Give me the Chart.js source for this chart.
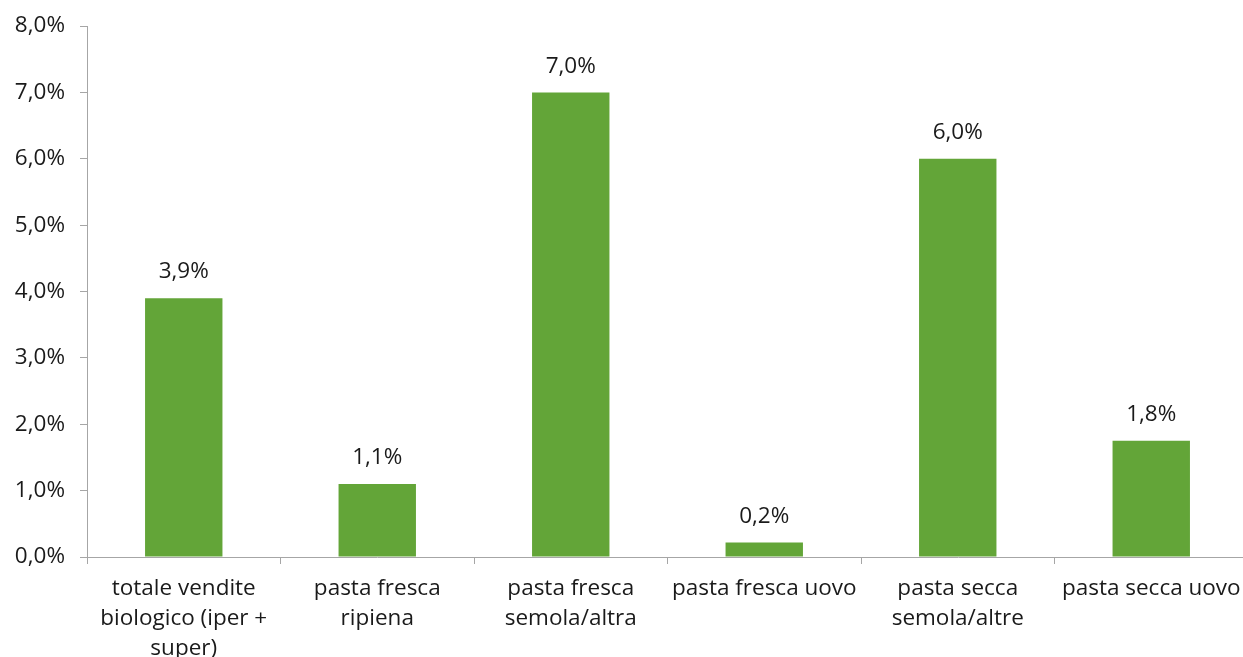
<!DOCTYPE html>
<html>
<head>
<meta charset="utf-8">
<script src="https://cdn.jsdelivr.net/npm/chart.js"></script>
<style>
  html, body { margin: 0; padding: 0; background: #fff; overflow: hidden; width: 1243px; height: 657px; }
  #wrap { position: relative; width: 1248px; height: 657px; }
</style>
</head>
<body>
<div id="wrap"><canvas id="pastaChart"></canvas></div>
<script>
const categories = [
  ["totale vendite", "biologico (iper +", "super)"],
  ["pasta fresca", "ripiena"],
  ["pasta fresca", "semola/altra"],
  "pasta fresca uovo",
  ["pasta secca", "semola/altre"],
  "pasta secca uovo"
];
const values = [3.9, 1.1, 7.0, 0.22, 6.0, 1.75];
const yTicks = [0, 1, 2, 3, 4, 5, 6, 7, 8];

const fmt = v => v.toFixed(1).replace(".", ",") + "%";
const fontFamily = "'Open Sans', Lato, sans-serif";

const valueLabels = {
  id: "valueLabels",
  afterDatasetsDraw(chart) {
    const ctx = chart.ctx;
    ctx.save();
    ctx.font = "22.5px " + fontFamily;
    ctx.fillStyle = "#1a1a1a";
    ctx.textAlign = "center";
    ctx.textBaseline = "bottom";
    chart.getDatasetMeta(0).data.forEach((bar, i) => {
      ctx.fillText(fmt(values[i]), bar.x, bar.y - 15);
    });
    ctx.restore();
  }
};

// keep the plot area fixed: no extra padding from tick labels
function noPad(scale) {
  scale.paddingLeft = 0;
  scale.paddingRight = 0;
  scale.paddingTop = 0;
  scale.paddingBottom = 0;
}

new Chart(document.getElementById("pastaChart"), {
  type: "bar",
  data: {
    labels: categories,
    datasets: [{
      data: values,
      backgroundColor: "#63a538",
      barPercentage: 0.4,
      categoryPercentage: 1
    }]
  },
  options: {
    responsive: true,
    maintainAspectRatio: false,
    animation: false,
    layout: { padding: { top: 26, right: 0, left: 0, bottom: 0 } },
    plugins: {
      legend: { display: false },
      tooltip: { enabled: false }
    },
    scales: {
      x: {
        grid: { offset: true, drawOnChartArea: false, tickLength: 7, color: "#a6a6a6" },
        border: { color: "#a6a6a6" },
        ticks: {
          color: "#1a1a1a",
          padding: 10,
          maxRotation: 0,
          autoSkip: false,
          font: { family: fontFamily, size: 22.5, lineHeight: 1.33 }
        },
        afterFit(scale) { scale.height = 100; noPad(scale); }
      },
      y: {
        min: 0,
        max: 8,
        afterBuildTicks(scale) { scale.ticks = yTicks.map(v => ({ value: v })); },
        grid: { drawOnChartArea: false, tickLength: 7, color: "#a6a6a6" },
        border: { color: "#a6a6a6" },
        ticks: {
          color: "#1a1a1a",
          padding: 15,
          font: { family: fontFamily, size: 22.5 },
          callback: v => fmt(v)
        },
        afterFit(scale) { scale.width = 87; noPad(scale); }
      }
    }
  },
  plugins: [valueLabels]
});
</script>
</body>
</html>
